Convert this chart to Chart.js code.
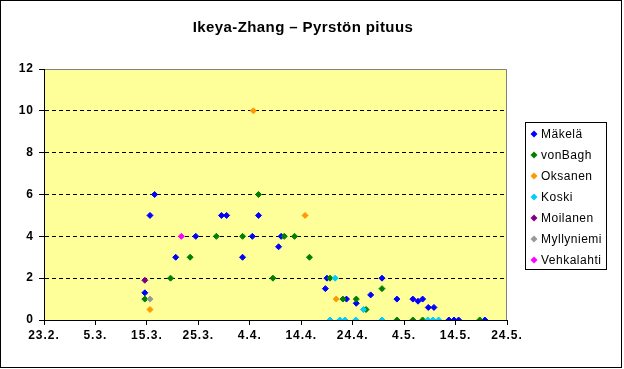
<!DOCTYPE html>
<html>
<head>
<meta charset="utf-8">
<script src="https://cdn.jsdelivr.net/npm/chart.js@4.4.1/dist/chart.umd.min.js"></script>
<style>
  html, body { margin: 0; padding: 0; background: #fff; }
  #wrap { width: 624px; height: 369px; }
</style>
</head>
<body>
<div id="wrap"><canvas id="chart" width="624" height="369"></canvas></div>
<script>
// x = day of year 2002 (23.2. = 54), y = tail length
const tickDays = [54, 64, 74, 84, 94, 104, 114, 124, 134, 144];
const tickLabels = ['23.2.', '5.3.', '15.3.', '25.3.', '4.4.', '14.4.', '24.4.', '4.5.', '14.5.', '24.5.'];

const observers = ['Mäkelä', 'vonBagh', 'Oksanen', 'Koski', 'Moilanen', 'Myllyniemi', 'Vehkalahti'];
const colors = ['#0000FF', '#008000', '#FF9900', '#00CCFF', '#800080', '#999999', '#FF00FF'];

const makela = [[75.5, 6], [74.6, 5], [88.5, 5], [89.5, 5], [95.7, 5], [83.5, 4], [94.5, 4], [100.1, 4],
  [99.6, 3.5], [79.6, 3], [92.6, 3], [73.6, 1.3], [109.0, 2], [119.7, 2], [108.7, 1.5], [117.5, 1.2],
  [112.8, 1], [114.7, 0.8], [122.6, 1], [125.7, 1], [126.7, 0.9], [127.6, 1], [128.7, 0.6], [129.8, 0.6],
  [132.7, 0], [133.7, 0], [134.6, 0], [139.7, 0]];
const vonBagh = [[95.7, 6], [87.5, 4], [92.6, 4], [100.7, 4], [102.7, 4], [82.4, 3], [105.6, 3], [78.6, 2],
  [98.5, 2], [73.6, 1], [109.6, 2], [119.7, 1.5], [112.1, 1], [114.7, 1], [116.6, 0.5], [122.6, 0],
  [125.7, 0], [127.6, 0], [138.7, 0]];
const oksanen = [[94.7, 10], [104.75, 5], [74.6, 0.5], [110.8, 1]];
const koski = [[110.6, 2], [116.1, 0.5], [109.6, 0], [111.5, 0], [112.5, 0], [114.6, 0], [119.7, 0],
  [128.6, 0], [129.6, 0], [130.7, 0]];
const moilanen = [[73.6, 1.9]];
const myllyniemi = [[74.6, 1]];
const vehkalahti = [[80.7, 4]];

const seriesData = [makela, vonBagh, oksanen, koski, moilanen, myllyniemi, vehkalahti];

const datasets = observers.map((name, i) => ({
  label: name,
  data: seriesData[i].map(p => ({ x: p[0], y: p[1] })),
  backgroundColor: colors[i],
  borderColor: colors[i],
  borderWidth: 1,
  pointStyle: 'rectRot',
  pointRadius: 3,
  pointHoverRadius: 3,
  showLine: false,
  order: -i
}));

// background, borders, title and legend like the Excel chart
const decor = {
  id: 'decor',
  beforeDraw(chart) {
    const { ctx, chartArea: a } = chart;
    ctx.save();
    ctx.fillStyle = '#fff';
    ctx.fillRect(0, 0, chart.width, chart.height);
    ctx.fillStyle = '#FFFF99';
    ctx.fillRect(a.left, a.top, a.right - a.left, a.bottom - a.top);
    ctx.strokeStyle = '#808080';
    ctx.lineWidth = 1;
    ctx.beginPath();
    ctx.moveTo(a.left, a.top + 0.5);
    ctx.lineTo(a.right - 0.5, a.top + 0.5);
    ctx.lineTo(a.right - 0.5, a.bottom);
    ctx.stroke();
    ctx.restore();
    ctx.letterSpacing = '1px';
  },
  afterDraw(chart) {
    const ctx = chart.ctx;
    ctx.save();
    ctx.strokeStyle = '#000';
    ctx.lineWidth = 1;
    ctx.strokeRect(0.5, 0.5, 621, 367);

    ctx.fillStyle = '#000';
    ctx.font = 'bold 15px "Liberation Sans", Arial, sans-serif';
    ctx.letterSpacing = '0.4px';
    ctx.textAlign = 'center';
    ctx.textBaseline = 'alphabetic';
    ctx.fillText('Ikeya-Zhang – Pyrstön pituus', 303, 32);

    ctx.strokeRect(525.5, 122.5, 81, 147);
    ctx.font = '12px "Liberation Sans", Arial, sans-serif';
    ctx.letterSpacing = '0.5px';
    ctx.textAlign = 'left';
    ctx.textBaseline = 'middle';
    observers.forEach((name, i) => {
      const y = 134 + i * 21;
      ctx.fillStyle = colors[i];
      ctx.beginPath();
      ctx.moveTo(530.5, y);
      ctx.lineTo(534, y - 3.5);
      ctx.lineTo(537.5, y);
      ctx.lineTo(534, y + 3.5);
      ctx.closePath();
      ctx.fill();
      ctx.fillStyle = '#000';
      ctx.fillText(name, 541, y + 0.5);
    });
    ctx.restore();
  }
};

new Chart(document.getElementById('chart'), {
  type: 'scatter',
  data: { datasets },
  options: {
    responsive: false,
    animation: false,
    events: [],
    layout: { padding: { left: 0, top: 69, right: 117, bottom: 19 } },
    plugins: { legend: { display: false }, tooltip: { enabled: false }, title: { display: false } },
    scales: {
      x: {
        type: 'linear',
        min: 54,
        max: 144,
        afterFit: s => { s.height = 30; },
        afterBuildTicks: s => { s.ticks = tickDays.map(v => ({ value: v })); },
        grid: { drawOnChartArea: false, drawTicks: true, tickLength: 5, tickColor: '#000', color: '#000' },
        border: { color: '#000', width: 1 },
        ticks: {
          color: '#000',
          padding: 3,
          maxRotation: 0,
          autoSkip: false,
          font: { family: '"Liberation Sans", Arial, sans-serif', size: 12, weight: 'bold' },
          callback: (v, i) => tickLabels[i]
        }
      },
      y: {
        min: 0,
        max: 12,
        afterFit: s => { s.width = 44; },
        grid: {
          color: c => (c.tick && (c.tick.value === 0 || c.tick.value === 12)) ? 'rgba(0,0,0,0)' : '#000',
          tickColor: '#000',
          tickLength: 5,
          lineWidth: 1
        },
        border: { color: '#000', width: 1, dash: [4, 3] },
        ticks: {
          stepSize: 2,
          color: '#000',
          padding: 5,
          font: { family: '"Liberation Sans", Arial, sans-serif', size: 12, weight: 'bold' }
        }
      }
    }
  },
  plugins: [decor]
});
</script>
</body>
</html>
